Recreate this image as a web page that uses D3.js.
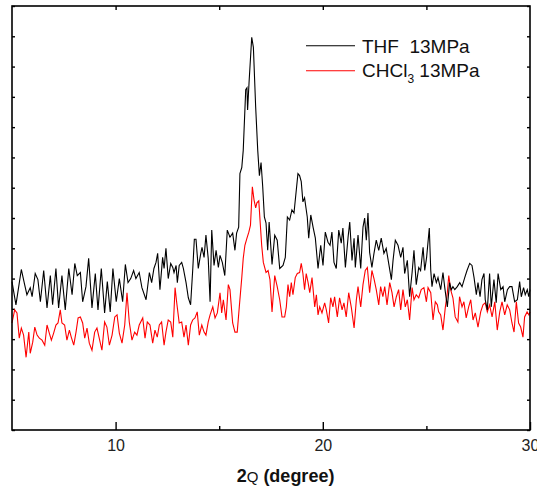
<!DOCTYPE html>
<html>
<head>
<meta charset="utf-8">
<script src="https://cdn.jsdelivr.net/npm/d3@7"></script>
<style>
  html, body { margin: 0; padding: 0; background: #fff; }
  svg { display: block; font-family: "Liberation Sans", Arial, sans-serif; }
</style>
</head>
<body>
<div id="chart"></div>
<script>
// 2-theta (degree) / intensity (a.u.)
const thfAngle = [5.00,5.19,5.45,5.61,5.72,5.88,5.97,6.12,6.25,6.37,6.53,6.69,6.85,6.96,7.12,7.25,7.41,7.57,7.74,7.90,
  8.03,8.15,8.30,8.41,8.57,8.70,8.86,9.02,9.15,9.31,9.47,9.60,9.74,9.87,10.03,10.18,10.34,10.47,10.60,10.73,
  10.87,10.98,11.14,11.27,
  11.47,11.63,11.74,11.85,11.95,12.03,12.14,12.27,12.34,12.43,12.54,12.66,12.76,12.82,12.92,12.98,13.07,13.19,13.27,13.40,
  13.51,13.62,13.72,13.80,13.88,13.99,14.11,14.17,14.27,14.36,14.47,14.56,14.64,14.75,14.85,14.96,15.04,15.15,15.27,15.39,
  15.52,15.65,15.76,15.84,15.94,
  16.00,16.09,16.16,16.28,16.34,16.37,16.44,16.57,16.65,16.76,16.86,16.94,17.02,17.10,17.18,17.26,17.34,17.41,17.55,17.68,
  17.80,17.92,18.08,18.19,18.29,18.40,18.51,18.61,18.80,18.88,18.96,19.04,19.12,19.25,19.32,19.42,19.53,19.64,19.77,19.90,
  20.01,20.12,20.25,20.35,20.44,20.54,20.65,20.77,20.89,20.97,21.09,21.22,21.30,21.41,21.51,21.57,21.70,21.83,21.94,22.02,
  22.10,22.18,22.26,22.37,22.47,22.58,22.70,22.82,22.95,23.06,23.18,23.31,23.39,23.50,23.63,
  23.76,23.87,23.95,24.08,24.19,24.31,24.40,24.51,24.63,24.72,24.84,24.92,25.01,25.14,25.21,25.27,25.37,25.48,25.56,25.69,
  25.80,25.88,26.01,26.12,26.20,26.28,26.37,26.49,26.61,26.72,26.85,26.96,27.09,27.20,27.30,27.41,27.49,27.59,27.68,27.78,
  27.84,27.94,28.05,28.13,28.26,28.37,28.46,28.59,28.70,28.78,28.91,29.02,29.13,29.26,29.39,29.50,29.58,29.69,29.77,29.87,
  29.94,30.00]
const thfCounts = [147,124,159,144,134,141,132,155,149,127,158,121,153,124,160,121,153,119,160,134,
  165,153,156,127,142,170,121,155,119,160,116,147,117,160,127,150,127,164,146,150,
  158,150,156,141,
  129,156,146,160,166,175,139,171,160,180,150,165,161,156,163,146,163,166,160,146,
  131,124,158,189,189,160,175,181,171,193,170,127,198,163,178,161,173,166,153,198,
  191,195,178,195,201,
  254,260,277,337,339,317,344,389,379,320,277,252,265,241,211,205,178,206,164,193,
  188,160,163,171,211,208,218,215,254,252,246,226,230,211,190,213,201,190,160,183,
  163,196,186,183,196,166,160,198,185,200,161,191,206,168,190,161,193,160,201,210,
  188,215,176,161,175,188,178,190,175,180,165,149,168,188,183,
  171,181,155,168,132,156,178,144,161,158,181,158,171,200,158,142,155,146,151,139,
  156,142,122,146,139,142,139,142,146,142,151,158,165,163,151,134,146,132,149,155,
  129,119,155,122,149,126,155,139,142,127,139,142,142,127,129,147,132,141,134,139,
  132,139]

const chclAngle = [5.00,5.13,5.24,5.35,5.45,5.56,5.68,5.81,5.88,6.00,6.10,6.21,6.32,6.45,6.58,6.69,6.80,6.90,7.01,7.12,
  7.22,7.33,7.41,7.54,7.65,7.77,7.86,7.98,8.09,8.19,8.30,8.41,8.51,8.62,8.73,8.86,8.99,9.10,9.21,9.34,
  9.47,9.58,9.70,9.83,9.96,10.07,10.18,10.31,10.44,10.55,10.66,10.79,10.92,11.03,11.14,11.31,11.42,11.53,11.66,11.79,
  11.90,12.01,12.11,12.22,12.34,12.43,12.54,12.66,12.76,12.87,12.95,13.07,13.19,13.30,13.40,13.51,13.62,13.72,13.83,13.94,
  14.04,14.16,14.27,14.36,14.47,14.56,14.69,14.80,14.91,15.04,15.12,15.20,15.33,15.44,15.52,15.65,15.76,15.87,15.97,16.09,
  16.16,16.24,16.34,16.43,16.51,16.60,16.68,16.76,16.82,16.91,16.97,17.05,17.13,17.26,17.36,17.45,17.55,17.68,17.80,17.92,
  18.03,18.16,18.24,18.32,18.40,18.48,18.56,18.67,18.77,18.88,18.96,19.04,19.12,19.20,19.29,19.37,19.48,19.61,19.69,19.77,
  19.85,19.96,20.09,20.17,20.28,20.38,20.49,20.57,20.70,20.81,20.93,21.02,21.13,21.25,21.38,21.51,21.62,21.70,21.83,21.94,
  22.05,22.15,22.26,22.37,22.47,22.58,22.70,22.79,22.90,22.99,23.10,23.23,23.34,23.44,23.55,23.66,23.76,23.87,23.98,24.08,
  24.19,24.31,24.40,24.51,24.63,24.75,24.88,25.00,25.08,25.21,25.32,25.43,25.53,25.59,25.69,25.80,25.91,26.01,26.08,26.17,
  26.28,26.39,26.52,26.60,26.72,26.81,26.92,27.04,27.14,27.25,27.36,27.49,27.62,27.73,27.84,27.94,28.05,28.17,28.30,28.42,
  28.54,28.65,28.78,28.90,29.02,29.13,29.23,29.34,29.45,29.55,29.66,29.74,29.86,29.95,30.00]
const chclCounts = [106,119,116,91,101,94,72,97,76,87,102,94,91,89,84,104,96,89,96,104,
  106,119,106,104,89,99,92,84,97,111,112,106,91,101,86,79,97,101,91,79,
  107,102,84,94,112,114,96,86,104,136,107,89,97,94,104,111,91,107,104,86,
  99,92,104,107,84,97,109,107,92,141,126,106,107,92,104,84,104,109,111,117,
  94,104,97,94,107,114,122,111,116,136,116,129,109,144,139,106,97,97,122,151,
  170,183,190,196,203,241,228,220,225,227,208,183,166,156,158,149,117,153,142,129,
  112,112,122,144,132,146,134,151,155,156,165,155,139,155,146,136,151,122,134,114,
  122,116,126,119,106,131,122,132,112,131,119,126,112,136,121,101,129,142,122,144,
  158,161,136,158,150,139,124,142,132,142,124,146,136,122,132,139,119,139,122,129,
  109,141,129,134,131,139,141,127,141,136,109,127,124,117,114,99,121,136,153,139,
  131,112,107,132,122,127,111,122,129,109,116,102,117,124,126,117,124,112,127,99,
  117,127,114,124,119,106,97,127,106,102,92,112,117,114,117]

const xMajorTicks = [10, 20, 30]
const xMinorTicks = [15, 25]
const xTopTicks = [10, 15, 20, 25]
const yTickStep = 30

const width = 537, height = 488
const margin = { top: 6, right: 7, bottom: 58, left: 12 }

const svg = d3.select('#chart')
  .append('svg')
  .attr('width', width)
  .attr('height', height)

const x = d3.scaleLinear().domain([5, 30]).range([margin.left, width - margin.right])
const y = d3.scaleLinear().domain([0, 420]).range([height - margin.bottom, margin.top])
const yTicks = d3.range(0, 421, yTickStep)

const bottom = height - margin.bottom

// axes (ticks pointing inward, no domain path; frame drawn separately)
function styleAxis(g) {
  g.select('.domain').remove()
  g.selectAll('.tick line').attr('stroke', '#000').attr('stroke-width', 1.4)
  g.selectAll('.tick text').attr('fill', '#222').attr('font-size', 16)
    .attr('font-family', '"Liberation Sans", Arial, sans-serif')
}

svg.append('g')
  .attr('transform', `translate(0,${bottom})`)
  .call(d3.axisBottom(x).tickValues(xMajorTicks).tickSize(-8).tickPadding(10).tickFormat(d3.format('d')))
  .call(styleAxis)

svg.append('g')
  .attr('transform', `translate(0,${bottom})`)
  .call(d3.axisBottom(x).tickValues(xMinorTicks).tickSize(-4).tickFormat(''))
  .call(styleAxis)

svg.append('g')
  .attr('transform', `translate(0,${margin.top})`)
  .call(d3.axisTop(x).tickValues(xTopTicks).tickSize(-4).tickFormat(''))
  .call(styleAxis)

svg.append('g')
  .attr('transform', `translate(${margin.left},0)`)
  .call(d3.axisLeft(y).tickValues(yTicks).tickSize(-3).tickFormat(''))
  .call(styleAxis)

svg.append('g')
  .attr('transform', `translate(${width - margin.right},0)`)
  .call(d3.axisRight(y).tickValues(yTicks).tickSize(-3).tickFormat(''))
  .call(styleAxis)

// data lines
const line = d3.line()
  .x(d => x(d[0]))
  .y(d => y(d[1]))

svg.append('path')
  .datum(d3.zip(chclAngle, chclCounts))
  .attr('fill', 'none')
  .attr('stroke', '#ff0000')
  .attr('stroke-width', 1.1)
  .attr('d', line)

svg.append('path')
  .datum(d3.zip(thfAngle, thfCounts))
  .attr('fill', 'none')
  .attr('stroke', '#000')
  .attr('stroke-width', 1.1)
  .attr('d', line)

// frame
svg.append('rect')
  .attr('x', margin.left)
  .attr('y', margin.top)
  .attr('width', width - margin.left - margin.right)
  .attr('height', bottom - margin.top)
  .attr('fill', 'none')
  .attr('stroke', '#000')
  .attr('stroke-width', 1.6)

// legend
const legend = svg.append('g')
legend.append('line').attr('x1', 306).attr('x2', 355).attr('y1', 45.7).attr('y2', 45.7)
  .attr('stroke', '#000').attr('stroke-width', 1.1)
legend.append('text').attr('x', 362).attr('y', 52.7).attr('font-size', 19).attr('fill', '#111')
  .attr('xml:space', 'preserve').text('THF  13MPa')

legend.append('line').attr('x1', 306).attr('x2', 355).attr('y1', 70.7).attr('y2', 70.7)
  .attr('stroke', '#ff0000').attr('stroke-width', 1.1)
const t2 = legend.append('text').attr('x', 362).attr('y', 76.7).attr('font-size', 19).attr('fill', '#111')
t2.append('tspan').text('CHCl')
t2.append('tspan').attr('font-size', 12).attr('dy', 6).text('3')
t2.append('tspan').attr('dy', -6).attr('xml:space', 'preserve').text(' 13MPa')

// x axis title
const title = svg.append('text')
  .attr('x', 236.7)
  .attr('y', 481.7)
  .attr('fill', '#111')
title.append('tspan').attr('font-size', 18).attr('font-weight', 'bold').text('2')
title.append('tspan').attr('font-size', 15).text('Q')
title.append('tspan').attr('font-size', 18).attr('font-weight', 'bold')
  .attr('xml:space', 'preserve').text(' (degree)')
</script>
</body>
</html>
